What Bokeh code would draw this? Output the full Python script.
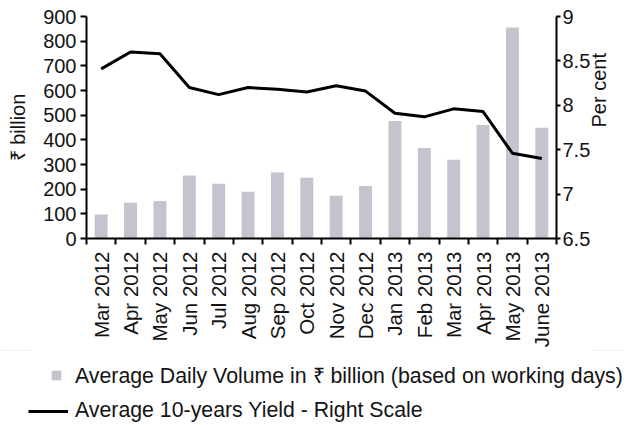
from math import pi
from bokeh.plotting import figure
from bokeh.layouts import column
from bokeh.models import (Range1d, LinearAxis, FixedTicker, CustomJSTickFormatter,
                          Legend, LegendItem)
from bokeh.embed import file_html
from bokeh.resources import INLINE

months = ["Mar 2012", "Apr 2012", "May 2012", "Jun 2012", "Jul 2012", "Aug 2012",
          "Sep 2012", "Oct 2012", "Nov 2012", "Dec 2012", "Jan 2013", "Feb 2013",
          "Mar 2013", "Apr 2013", "May 2013", "June 2013"]
volume = [97, 145, 152, 255, 222, 190, 268, 246, 173, 213, 476, 367, 319, 460, 855, 449]
yield_pct = [8.41, 8.60, 8.58, 8.20, 8.12, 8.20, 8.18, 8.15, 8.22, 8.16, 7.91, 7.87,
             7.96, 7.93, 7.46, 7.40]
left_ticks = [0, 100, 200, 300, 400, 500, 600, 700, 800, 900]
right_ticks = [6.5, 7, 7.5, 8, 8.5, 9]
legend_labels = ["Average Daily Volume in ₹ billion (based on working days)",
                 "Average 10-years Yield - Right Scale"]

FONT = "Liberation Sans"
TXT = "#141414"
BAR = "#c4c4ce"
W = 624

n = len(months)
xs = list(range(n))

p = figure(width=W, height=350, output_backend="svg", toolbar_location=None,
           x_range=Range1d(-0.5, n - 0.5), y_range=Range1d(left_ticks[0], left_ticks[-1]),
           min_border_left=86, min_border_right=60, min_border_top=16,
           min_border_bottom=111)
p.outline_line_color = None
p.grid.visible = False
p.extra_y_ranges = {"pct": Range1d(right_ticks[0], right_ticks[-1])}

bars = p.vbar(x=xs, top=volume, width=0.44, fill_color=BAR, line_color=None)
line = p.line(x=xs, y=yield_pct, y_range_name="pct", line_color="black", line_width=3)

def style(ax):
    ax.axis_line_color = "black"
    ax.axis_line_width = 2
    ax.major_tick_line_color = "black"
    ax.major_tick_line_width = 2
    ax.major_tick_in = 0
    ax.major_tick_out = 6
    ax.minor_tick_line_color = None
    ax.major_label_text_font = FONT
    ax.major_label_text_font_size = "20px"
    ax.major_label_text_color = TXT
    ax.axis_label_text_font = FONT
    ax.axis_label_text_font_size = "20px"
    ax.axis_label_text_font_style = "normal"
    ax.axis_label_text_color = TXT

# bottom axis
xa = p.xaxis[0]
style(xa)
xa.ticker = FixedTicker(ticks=xs, minor_ticks=[i - 0.5 for i in range(n + 1)])
xa.major_label_overrides = {i: m for i, m in enumerate(months)}
xa.major_label_text_font_size = "20.5px"
xa.major_tick_line_color = None
xa.major_tick_out = 0
xa.minor_tick_line_color = "black"
xa.minor_tick_line_width = 2
xa.minor_tick_in = 0
xa.minor_tick_out = 6
xa.major_label_orientation = pi / 2
xa.major_label_standoff = 7

# left axis
ya = p.yaxis[0]
style(ya)
ya.ticker = FixedTicker(ticks=left_ticks)
ya.axis_label = "₹ billion"
ya.major_label_standoff = 4
ya.axis_label_standoff = 11

# right axis
ra = LinearAxis(y_range_name="pct", ticker=FixedTicker(ticks=right_ticks),
                formatter=CustomJSTickFormatter(code="return String(Math.round(tick*10)/10)"))
style(ra)
ra.major_tick_out = 4
ra.axis_label = "Per cent"
ra.major_label_standoff = 2
ra.axis_label_standoff = 6
ra.axis_label_orientation = pi / 2
p.add_layout(ra, "right")

# legend strip below the chart
lf = figure(width=W, height=73, output_backend="svg", toolbar_location=None,
            x_range=Range1d(0, 1), y_range=Range1d(-2, -1),
            x_axis_location=None, y_axis_location=None, min_border=0)
try:
    lf.frame_align = False
except Exception:
    pass
lf.outline_line_color = None
lf.grid.visible = False
lf.border_fill_color = "white"
lf.background_fill_color = "white"
# same series drawn outside the strip's visible range, only so the legend has glyphs
lb = lf.vbar(x=xs, top=volume, width=0.1, fill_color=BAR, line_color=None)
ll = lf.line(x=xs, y=yield_pct, line_color="black", line_width=3)

def mk_legend(renderer, label, loc, gw, gh, standoff):
    return Legend(items=[LegendItem(label=label, renderers=[renderer])], location=loc,
                  orientation="vertical", glyph_width=gw, glyph_height=gh,
                  label_standoff=standoff, padding=0, margin=0, spacing=0,
                  background_fill_alpha=0, border_line_alpha=0,
                  label_text_font=FONT, label_text_font_size="21.3px",
                  label_text_color=TXT, label_height=16)

lf.add_layout(mk_legend(lb, legend_labels[0], (50, 34), 12, 12, 13))
lf.add_layout(mk_legend(ll, legend_labels[1], (28, 0), 40, 16, 7))

layout = column(p, lf, styles={"background-color": "white"})
open("out.html", "w").write(file_html(layout, INLINE))
